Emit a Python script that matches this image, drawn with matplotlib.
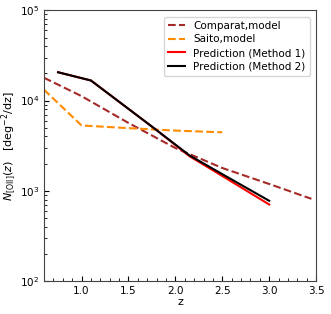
import matplotlib
matplotlib.use("Agg")
import matplotlib.pyplot as plt
from matplotlib.ticker import MultipleLocator

# Comparat model
z_comp = [0.6, 1.0, 1.5, 2.0, 2.5, 3.0, 3.45]
n_comp = [17900, 11200, 5650, 2980, 1790, 1190, 815]

# Saito model
z_saito = [0.6, 1.0, 1.5, 2.0, 2.5]
n_saito = [13200, 5300, 4950, 4650, 4450]

# predictions
z_pred = [0.75, 1.1, 1.5, 1.8, 2.15, 2.5, 3.0]
n_m1 = [20600, 16700, 8100, 4700, 2420, 1460, 705]
n_m2 = [20600, 16700, 8100, 4700, 2470, 1530, 775]

fig = plt.figure(figsize=(3.31, 3.14), dpi=100)
ax = fig.add_axes([0.133, 0.105, 0.822, 0.862])

ax.plot(z_comp, n_comp, "--", color="brown", lw=1.5, label="Comparat,model")
ax.plot(z_saito, n_saito, "--", color="darkorange", lw=1.5, label="Saito,model")
ax.plot(z_pred, n_m1, "-", color="red", lw=1.5, label="Prediction (Method 1)")
ax.plot(z_pred, n_m2, "-", color="black", lw=1.5, label="Prediction (Method 2)")

ax.set_yscale("log")
ax.set_xlim(0.6, 3.5)
ax.set_ylim(1e2, 1e5)
ax.xaxis.set_minor_locator(MultipleLocator(0.1))
ax.tick_params(which="both", direction="in", labelsize=7.5)
ax.set_xlabel("z", fontsize=8, labelpad=1)
ax.set_ylabel(r"$N_{\rm [OII]}(z)$   [deg$^{-2}$/dz]", fontsize=8, labelpad=1)
for s in ax.spines.values():
	s.set_color("#444444")

ax.legend(loc="upper right", fontsize=7.5, handlelength=1.6, labelspacing=0.35,
	borderaxespad=0.6)

plt.savefig("out.png")
